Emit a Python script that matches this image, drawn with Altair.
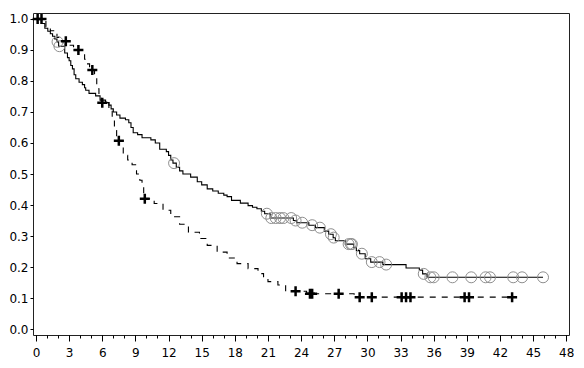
import altair as alt
import pandas as pd
import numpy as np

# Group A (solid line, circle censor marks): step times and survival
a_t = [0, 0.5, 0.8, 1.07, 1.3, 1.5, 1.7, 1.9, 2.05, 2.6, 2.85, 3.0, 3.15, 3.3, 3.45, 3.6, 3.9,
       4.2, 4.4, 4.5, 4.8, 5.4, 5.8, 6.3, 6.6, 6.8, 7.0, 7.3, 7.6, 8.1, 8.4, 8.6, 8.8, 9.2,
       9.6, 10.4, 10.8, 11.2, 11.8, 12.0, 12.2, 12.4, 12.7, 13.0, 13.3, 14.0, 14.6, 15.0,
       15.5, 16.0, 16.5, 17.0, 17.3, 17.7, 18.5, 19.2, 19.6, 20.0, 20.4, 20.7, 21.2, 23.3,
       23.6, 24.7, 25.3, 26.1, 26.5, 26.9, 27.1, 28.0, 28.75, 29.0, 29.3, 29.8, 30.3, 31.4,
       33.5, 34.7, 35.0, 35.4, 45.9]
a_s = [1.0, 0.985, 0.97, 0.96, 0.952, 0.944, 0.935, 0.926, 0.912, 0.89, 0.875, 0.865, 0.85,
       0.839, 0.82, 0.807, 0.796, 0.788, 0.778, 0.77, 0.76, 0.752, 0.738, 0.73, 0.722, 0.71,
       0.70, 0.69, 0.68, 0.675, 0.665, 0.65, 0.633, 0.627, 0.617, 0.61, 0.60, 0.58, 0.572,
       0.56, 0.545, 0.535, 0.522, 0.51, 0.50, 0.49, 0.475, 0.465, 0.452, 0.445, 0.438, 0.432,
       0.427, 0.415, 0.406, 0.398, 0.393, 0.388, 0.38, 0.372, 0.358, 0.35, 0.343, 0.335,
       0.327, 0.316, 0.306, 0.295, 0.285, 0.274, 0.264, 0.253, 0.243, 0.227, 0.216, 0.208,
       0.197, 0.19, 0.178, 0.167, 0.167]
a_cens = [1.95, 2.12, 12.5, 20.9, 21.3, 21.7, 22.1, 22.4, 23.1, 23.5, 24.1, 25.0, 25.7, 26.7,
          26.95, 28.3, 28.5, 28.6, 29.5, 30.4, 31.1, 31.7, 35.1, 35.7, 36.0, 37.7, 39.4, 40.7,
          41.1, 43.2, 44.0, 45.9]

# Group B (dashed line, plus censor marks)
b_t = [0, 0.9, 1.3, 1.6, 1.9, 2.3, 3.0, 3.4, 3.6, 4.2, 4.4, 4.6, 4.85, 5.3, 5.5, 5.7, 5.9,
       6.6, 6.9, 7.1, 7.3, 7.45, 7.9, 8.3, 8.7, 9.1, 9.4, 9.6, 9.75, 9.8, 10.7, 11.5, 12.2,
       13.0, 13.8, 14.8, 15.5, 16.4, 17.3, 18.2, 19.2, 20.1, 20.6, 21.0, 21.9, 22.6, 24.5,
       28.8, 43.1]
b_s = [1.0, 0.975, 0.962, 0.95, 0.94, 0.928, 0.915, 0.905, 0.90, 0.89, 0.87, 0.855, 0.835,
       0.81, 0.775, 0.75, 0.73, 0.705, 0.675, 0.64, 0.62, 0.607, 0.56, 0.545, 0.53, 0.50,
       0.48, 0.46, 0.43, 0.42, 0.405, 0.383, 0.362, 0.338, 0.312, 0.292, 0.27, 0.248, 0.229,
       0.211, 0.195, 0.179, 0.165, 0.153, 0.142, 0.122, 0.114, 0.103, 0.103]
b_cens = [0.15, 0.5, 2.7, 3.84, 5.1, 6.0, 7.5, 9.85, 23.5, 24.8, 25.0, 27.4, 29.3, 30.4, 33.1,
          33.5, 33.9, 38.8, 39.2, 43.1]

x_major = list(range(0, 49, 3))
x_minor = list(range(0, 49))
y_ticks = [round(i * 0.1, 1) for i in range(11)]


def surv_at(ts, ss, t):
    i = int(np.searchsorted(np.array(ts), t, side="right")) - 1
    return ss[max(i, 0)]


line_a = pd.DataFrame({"t": a_t, "s": a_s})
line_b = pd.DataFrame({"t": b_t, "s": b_s})
cens_a = pd.DataFrame({"t": a_cens, "s": [surv_at(a_t, a_s, t) for t in a_cens]})
cens_b = pd.DataFrame({"t": b_cens, "s": [surv_at(b_t, b_s, t) for t in b_cens]})

FONT = "DejaVu Sans"
xscale = alt.Scale(domain=[-0.27, 48.25], nice=False, zero=False)
yscale = alt.Scale(domain=[-0.019, 1.019], nice=False, zero=False)

y_enc = alt.Y("s:Q", scale=yscale, axis=alt.Axis(
    values=y_ticks, format=".1f", title=None, grid=False, tickSize=3, labelPadding=2,
    labelFont=FONT, labelFontSize=12, labelColor="black", domain=False,
    tickColor="black"))

x_major_axis = alt.Axis(values=x_major, title=None, grid=False, tickSize=6, labelPadding=6,
                        labelFont=FONT, labelFontSize=12, labelColor="black", domain=False,
                        tickColor="black", orient="bottom", labelFlush=False)
x_minor_axis = alt.Axis(values=x_minor, title=None, grid=False, tickSize=3, labels=False,
                        domain=False, tickColor="black", orient="bottom")

solid = alt.Chart(line_a).mark_line(interpolate="step-after", color="black",
                                    strokeWidth=1.1).encode(
    x=alt.X("t:Q", scale=xscale, axis=x_major_axis), y=y_enc)

dashed = alt.Chart(line_b).mark_line(interpolate="step-after", color="black",
                                     strokeWidth=1.1, strokeDash=[6, 6]).encode(
    x=alt.X("t:Q", scale=xscale, axis=x_minor_axis), y=y_enc)

circles = alt.Chart(cens_a).mark_point(shape="circle", filled=False, color="#8f8f8f",
                                       size=120, strokeWidth=1, opacity=1).encode(
    x=alt.X("t:Q", scale=xscale, axis=None), y=y_enc)

pluses = alt.Chart(cens_b).mark_point(shape="M-1,0L1,0M0,-1L0,1", filled=False,
                                      color="black", size=100, strokeWidth=2.5,
                                      opacity=1).encode(
    x=alt.X("t:Q", scale=xscale, axis=None), y=y_enc)

chart = alt.layer(solid, dashed, circles, pluses).resolve_axis(x="independent").properties(
    width=536, height=322, padding={"left": 0, "top": 0, "right": 0, "bottom": 0}
).configure_view(stroke="#222", strokeWidth=1)

chart.save("out.html", embed_options={"renderer": "svg", "actions": False})
